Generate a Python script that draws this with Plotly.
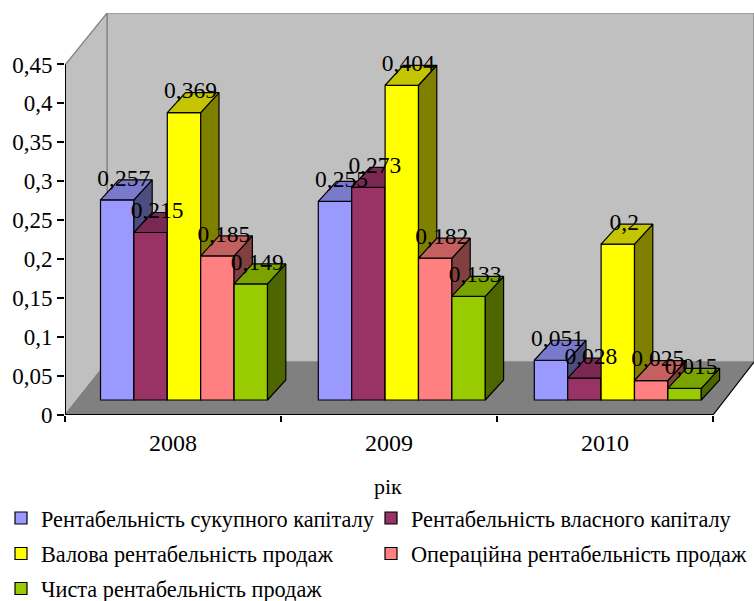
import plotly.graph_objects as go

# ---- data ----
years = ["2008", "2009", "2010"]
series_names = [
    "Рентабельність сукупного капіталу",
    "Рентабельність власного капіталу",
    "Валова рентабельність продаж",
    "Операційна рентабельність продаж",
    "Чиста рентабельність продаж",
]
total_assets = [0.257, 0.255, 0.051]
equity = [0.215, 0.273, 0.028]
gross = [0.369, 0.404, 0.2]
operating = [0.185, 0.182, 0.025]
net = [0.149, 0.133, 0.015]
all_values = [total_assets, equity, gross, operating, net]
y_ticks = [0, 0.05, 0.1, 0.15, 0.2, 0.25, 0.3, 0.35, 0.4, 0.45]
y_tick_labels = ["0", "0,05", "0,1", "0,15", "0,2", "0,25", "0,3", "0,35", "0,4", "0,45"]

# ---- styles ----
front = ["#9999FF", "#993366", "#FFFF00", "#FF8080", "#99CC00"]
top = ["#7A7ACC", "#7A2952", "#C4C400", "#C46060", "#7AA300"]
side = ["#4D4D80", "#4D1A33", "#808000", "#804040", "#4D6600"]
FONT = "Liberation Serif"

# ---- pseudo-3D projection (pixel layout constants, page coordinates) ----
L, R, T, B = 65, 754, 13, 415
PX_X, PX_Y = 216.0, 779.0     # pixels per category / per unit


def X(px):
    return (px - L) / PX_X


def Y(py):
    return (B - py) / PX_Y


x_range = [0, X(R)]
y_range = [0, Y(T)]
group_left = [X(100.5), X(318.3), X(534.3)]
bar_w = 33.4 / PX_X
base = Y(400)
dx, dy = 18.3 / PX_X, 20 / PX_Y

fig = go.Figure()


def axes_ref(i):
    return ("x", "y") if i == 0 else (f"x{i+1}", f"y{i+1}")


legend_names = ["legend", "legend2", "legend3", "legend4", "legend5"]
for s, vals in enumerate(all_values):
    xa, ya = axes_ref(s)
    lefts = [g + s * bar_w for g in group_left]
    top_x, top_y, side_x, side_y = [], [], [], []
    for l, v in zip(lefts, vals):
        h = base + v
        r = l + bar_w
        top_x += [l, r, r + dx, l + dx, l, None]
        top_y += [h, h, h + dy, h + dy, h, None]
        side_x += [r, r + dx, r + dx, r, r, None]
        side_y += [base, base + dy, h + dy, h, base, None]
    for px, py, col in ((side_x, side_y, side[s]), (top_x, top_y, top[s])):
        fig.add_trace(go.Scatter(
            x=px, y=py, mode="lines", fill="toself", fillcolor=col,
            line=dict(color="black", width=1.2), showlegend=False,
            hoverinfo="skip", xaxis=xa, yaxis=ya))
    fig.add_trace(go.Bar(
        x=[l + bar_w / 2 for l in lefts], y=vals, base=base, width=bar_w,
        name=series_names[s], marker=dict(color=front[s], line=dict(color="black", width=1.2)),
        xaxis=xa, yaxis=ya, legend=legend_names[s]))

# data labels sit on the last overlay, above all bars
label_shift = 6.5 / PX_X
lab_x, lab_y, lab_t = [], [], []
for s, vals in enumerate(all_values):
    for g, v in zip(group_left, vals):
        lab_x.append(g + s * bar_w + bar_w / 2 + label_shift)
        lab_y.append(base + v + dy)
        lab_t.append(str(v).replace(".", ","))
fig.add_trace(go.Scatter(
    x=lab_x, y=lab_y, text=lab_t, mode="text", textposition="middle center",
    textfont=dict(family=FONT, size=23.5, color="black"), showlegend=False,
    hoverinfo="skip", xaxis="x5", yaxis="y5"))


def poly(pts):
    return "M " + " L ".join(f"{X(a)} {Y(b)}" for a, b in pts) + " Z"


shapes = [
    dict(type="path", path=poly([(107, 13), (R, 13), (R, 362), (107, 362)]),
         fillcolor="#C0C0C0", line=dict(color="#808080", width=1.2), layer="below"),
    dict(type="path", path=poly([(65, 415), (107, 362), (107, 13), (65, 65)]),
         fillcolor="#C0C0C0", line=dict(color="#808080", width=1.2), layer="below"),
    dict(type="path", path=poly([(65, 415), (713, 415), (R, 362), (107, 362)]),
         fillcolor="#808080", line=dict(color="#808080", width=1), layer="below"),
    dict(type="line", x0=0, x1=3, y0=0, y1=0, line=dict(color="black", width=2)),
    dict(type="line", x0=3, x1=X(R), y0=0, y1=Y(362), line=dict(color="black", width=1.2)),
    dict(type="line", x0=0, x1=0, y0=0, y1=0.45, line=dict(color="black", width=2)),
]

# legends, one per entry, placed like the reference's two-column block
text_x = [41, 411, 41, 411, 41]
text_y = [518, 518, 553.5, 553.5, 588.5]
layout_legends = {}
for name, tx, ty in zip(legend_names, text_x, text_y):
    layout_legends[name] = dict(
        x=(tx - 40 - L) / (R - L), y=(B - ty) / (B - T),
        xanchor="left", yanchor="middle", bgcolor="rgba(0,0,0,0)",
        font=dict(family=FONT, size=22.3, color="black"), traceorder="normal")

overlay_axes = {}
for i in range(2, 6):
    overlay_axes[f"xaxis{i}"] = dict(range=x_range, overlaying="x", visible=False)
    overlay_axes[f"yaxis{i}"] = dict(range=y_range, overlaying="y", visible=False)

fig.update_layout(
    width=754, height=601, autosize=False,
    margin=dict(l=L, r=0, t=T, b=601 - B, autoexpand=False),
    paper_bgcolor="white", plot_bgcolor="white", barmode="overlay",
    font=dict(family=FONT, color="black"), shapes=shapes,
    annotations=[dict(text="рік", x=(388 - L) / (R - L), y=(B - 486) / (B - T),
                      xref="paper", yref="paper", showarrow=False,
                      xanchor="center", yanchor="middle", font=dict(family=FONT, size=22))],
    xaxis=dict(
        range=x_range, tickmode="array", tickvals=[0.5, 1.5, 2.5], ticktext=years,
        ticks="outside", ticklen=6, tickcolor="rgba(0,0,0,0)", showgrid=False, zeroline=False,
        tickfont=dict(family=FONT, size=24), showline=False,
        minor=dict(tickmode="array", tickvals=[0, 1, 2, 3], ticks="outside", ticklen=6,
                   tickcolor="black", tickwidth=1.5, showgrid=False)),
    yaxis=dict(
        range=y_range, tickmode="array", tickvals=y_ticks, ticktext=y_tick_labels,
        ticks="outside", ticklen=7, tickwidth=1.5, tickcolor="black", showgrid=False,
        zeroline=False, showline=False, tickfont=dict(family=FONT, size=23)),
    **layout_legends, **overlay_axes)

fig.write_html("out.html", config={"displayModeBar": False},
               post_script="document.body.style.margin='0';document.documentElement.style.overflow='hidden';")
